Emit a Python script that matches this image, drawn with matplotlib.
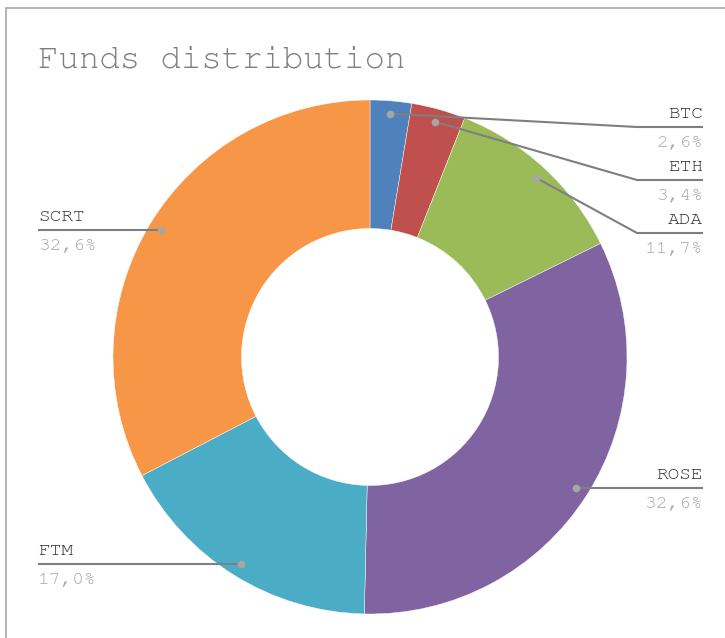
import matplotlib
matplotlib.use('Agg')
import matplotlib.pyplot as plt
import numpy as np
from matplotlib.patches import Rectangle

categories = ['BTC', 'ETH', 'ADA', 'ROSE', 'FTM', 'SCRT']
values = [2.6, 3.4, 11.7, 32.6, 17.0, 32.6]
pct_labels = ['2,6%', '3,4%', '11,7%', '32,6%', '17,0%', '32,6%']
colors = ['#4f81bd', '#c0504d', '#9bbb59', '#8064a2', '#4bacc6', '#f79646']
title = 'Funds distribution'

W, H = 725, 638
fig = plt.figure(figsize=(7.25, 6.38), dpi=100)
ax = fig.add_axes([0, 0, 1, 1])

cx, cy = 370, H - 357
R = 257
ax.pie(values, colors=colors, startangle=90, counterclock=False,
       center=(cx, cy), radius=R,
       wedgeprops=dict(width=R * 0.5, edgecolor='white', linewidth=0.3))
ax.set_xlim(0, W)
ax.set_ylim(0, H)
ax.set_aspect('auto')
ax.axis('off')

# frame border (chart area, cropped at right/bottom)
fig.patches.append(Rectangle((6, -20), W + 40, H - 8 + 20, transform=None,
                             fill=False, edgecolor='#a6a6a6', linewidth=1.2))

font = ['FreeMono', 'Liberation Mono', 'DejaVu Sans Mono']
ax.text(38, H - 67, title, fontsize=24.5, family=font, color='#7f7f7f',
        ha='left', va='baseline')

# label layout: (side, elbow_x, line_y in y-down pixels or None)
layout = {
    'BTC': ('right', 637, 127),
    'ETH': ('right', 637, 180),
    'ADA': ('right', 637, 233),
    'ROSE': ('right', None, None),
    'FTM': ('left', None, None),
    'SCRT': ('left', None, None),
}

total = sum(values)
cum = np.concatenate([[0], np.cumsum(values)[:-1]])
for name, v, c0, pct in zip(categories, values, cum, pct_labels):
    theta = np.deg2rad(90 - 360 * (c0 + v / 2) / total)
    dx = cx + 0.95 * R * np.cos(theta)
    dy = cy + 0.95 * R * np.sin(theta)
    side, ex, ly = layout[name]
    if ly is None:
        ly_up = dy
    else:
        ly_up = H - ly
    if side == 'right':
        xend = 703
        if ex is None:
            xs = [dx, xend]; ys = [dy, dy]
        else:
            xs = [dx, ex, xend]; ys = [dy, ly_up, ly_up]
        ha = 'right'
        tx = xend
    else:
        xend = 38
        xs = [dx, xend]; ys = [dy, dy]
        ha = 'left'
        tx = xend
    ax.plot(xs, ys, color='#7f7f7f', linewidth=1.5, solid_capstyle='butt', zorder=3)
    ax.plot([dx], [dy], 'o', color='#a6a6a6', markersize=5.5, markeredgewidth=0, zorder=4)
    ax.text(tx, ly_up + 9, name, fontsize=14, family=font, color='#303030',
            ha=ha, va='baseline')
    ax.text(tx, ly_up - 20, pct, fontsize=14, family=font, color='#a6a6a6',
            ha=ha, va='baseline')

fig.savefig('out.png', dpi=100)
